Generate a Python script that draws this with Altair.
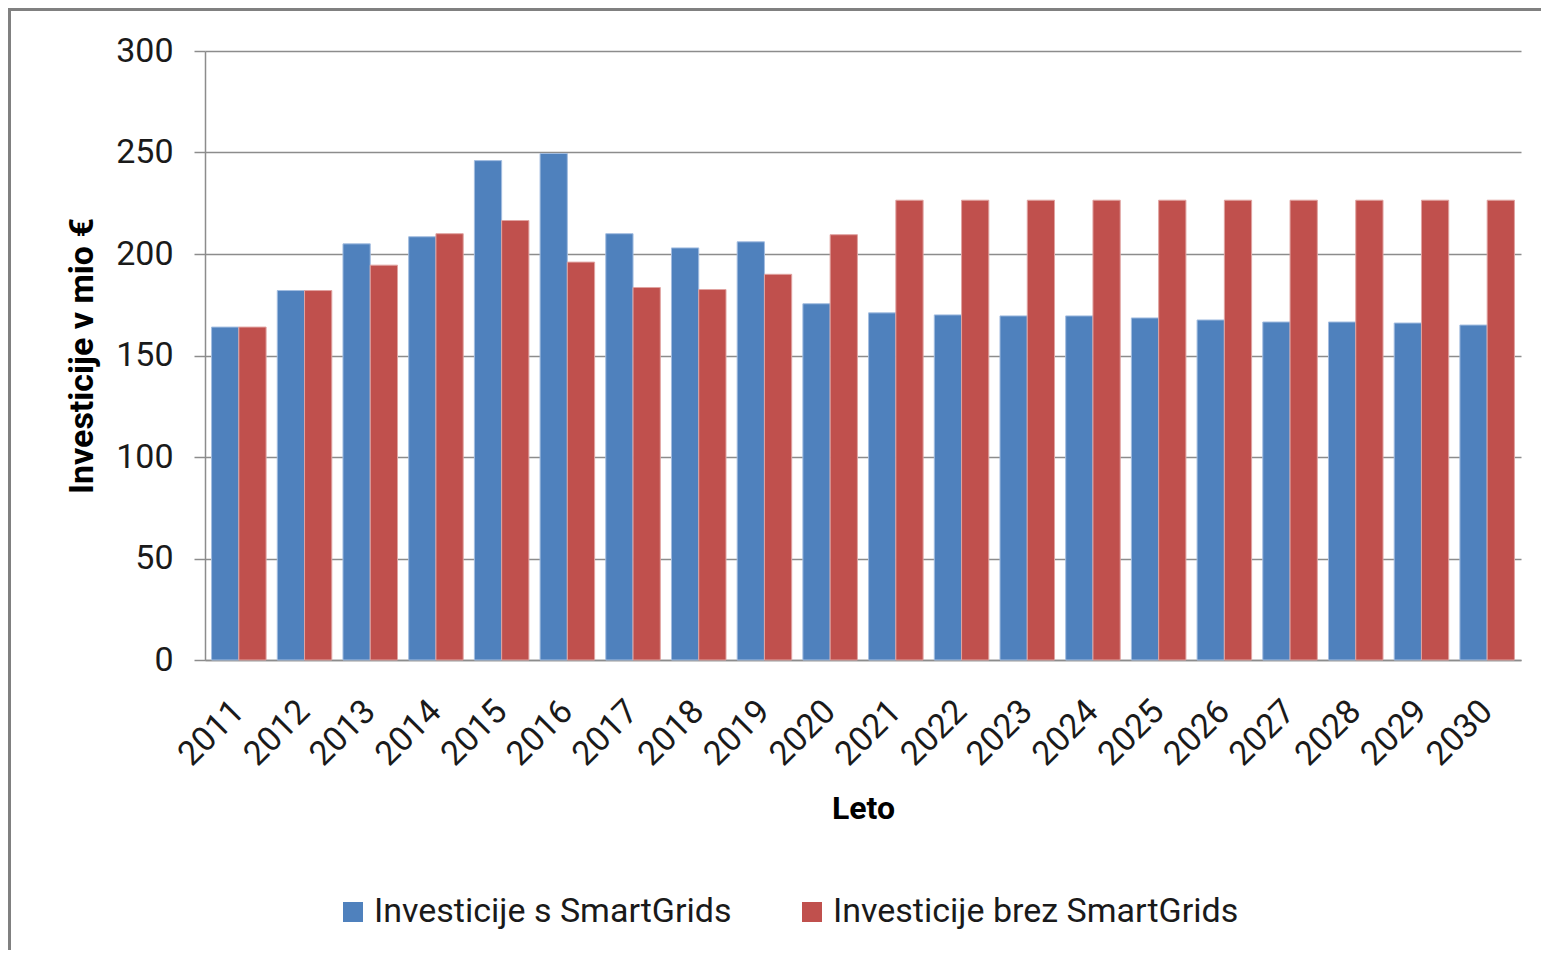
import altair as alt
import pandas as pd

years = [str(y) for y in range(2011, 2031)]
S1 = "Investicije s SmartGrids"
S2 = "Investicije brez SmartGrids"
s_smart = [164, 182, 205, 208.5, 246, 249.5, 210, 203, 206, 175.5,
           171, 170, 169.5, 169.5, 168.5, 167.5, 166.5, 166.5, 166, 165]
s_brez = [164, 182, 194.5, 210, 216.5, 196, 183.5, 182.5, 190, 209.5,
          226.5, 226.5, 226.5, 226.5, 226.5, 226.5, 226.5, 226.5, 226.5, 226.5]
y_ticks = [0, 50, 100, 150, 200, 250, 300]

rows = []
for yr, a, b in zip(years, s_smart, s_brez):
    rows.append({"Leto": yr, "Serija": S1, "Vrednost": a})
    rows.append({"Leto": yr, "Serija": S2, "Vrednost": b})
df = pd.DataFrame(rows)

FONT = "Roboto"
GRID = "#8c8c8c"
TXT = "#1a1a1a"

bars = alt.Chart(df).mark_bar(strokeWidth=1).encode(
    x=alt.X(
        "Leto:N", sort=years,
        scale=alt.Scale(paddingInner=0.17, paddingOuter=0.1),
        axis=alt.Axis(
            title="Leto", labelAngle=-45, labelAlign="right", labelBaseline="middle",
            ticks=False, labelPadding=46, labelFontSize=34, labelFont=FONT,
            labelColor=TXT, titleFont=FONT, titleFontSize=32, titleFontWeight="bold",
            titleColor="#000000", titleY=148, titleBaseline="middle",
            domainColor=GRID, domainWidth=1.5, grid=False,
        ),
    ),
    xOffset=alt.XOffset("Serija:N", sort=[S1, S2],
                        scale=alt.Scale(domain=[S1, S2], paddingInner=0, paddingOuter=0)),
    y=alt.Y(
        "Vrednost:Q",
        scale=alt.Scale(domain=[0, 300], nice=False),
        axis=alt.Axis(
            values=y_ticks, title="Investicije v mio €", grid=True, gridColor=GRID,
            gridWidth=1.5, domainColor=GRID, domainWidth=1.5, tickColor=GRID,
            tickWidth=1.5, tickSize=11, labelPadding=21, labelFontSize=34,
            labelFont=FONT, labelColor=TXT, titleFont=FONT, titleFontSize=34,
            titleFontWeight="bold", titleColor="#000000", titleX=-123, titleY=304.5,
            titleAngle=270, titleAlign="center", titleBaseline="middle",
        ),
    ),
    color=alt.Color(
        "Serija:N",
        scale=alt.Scale(domain=[S1, S2], range=["#4F81BD", "#C0504D"]),
        legend=alt.Legend(
            title=None, orient="none", legendX=131, legendY=844,
            direction="horizontal", symbolType="square", symbolSize=400,
            symbolStrokeWidth=0, labelFontSize=34, labelFont=FONT, labelColor=TXT,
            labelOffset=4, columnPadding=63, labelLimit=0, padding=0,
        ),
    ),
    stroke=alt.Stroke(
        "Serija:N",
        scale=alt.Scale(domain=[S1, S2], range=["#a3bde0", "#e0a3a1"]),
        legend=None,
    ),
)

frame_base = alt.Chart(pd.DataFrame({"k": [0]})).mark_rule(color="#808080", strokeWidth=3)
frame_top = frame_base.encode(x=alt.value(-196), x2=alt.value(1340), y=alt.value(-41.5))
frame_left = frame_base.encode(x=alt.value(-195.5), y=alt.value(-43), y2=alt.value(920))

chart = alt.layer(bars, frame_top, frame_left).properties(
    width=1316, height=609,
    padding={"left": 197, "top": 43, "right": 20, "bottom": 290},
    autosize="none",
    background="white",
).configure_view(stroke=None)

chart.save("out.html", embed_options={"renderer": "svg", "actions": False})
